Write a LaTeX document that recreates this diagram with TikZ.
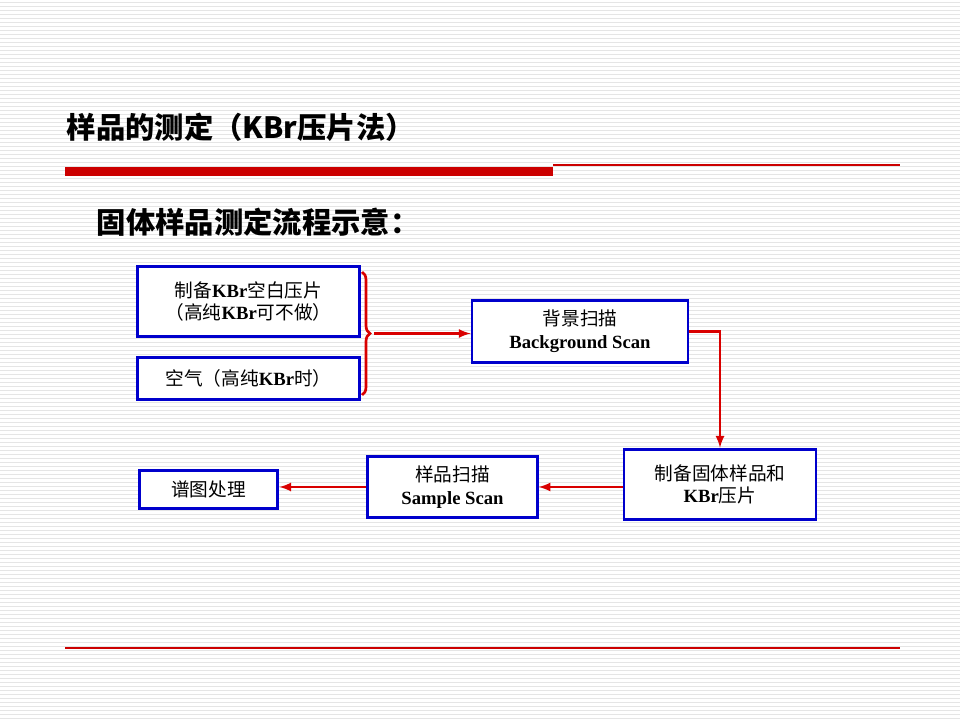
\documentclass[tikz,border=0pt]{standalone}
\usepackage{fontspec}
\setmainfont{Liberation Serif}
\newfontfamily\cjk{Noto Sans CJK SC}
\newcommand{\zh}[1]{{\cjk\mdseries #1}}
\usetikzlibrary{positioning, calc, decorations.pathreplacing}

\tikzset{
  stepbox/.style={draw=blue!80!black, line width=2.2pt, fill=white, align=center, font=\fontsize{14}{17}\selectfont\bfseries, inner sep=2pt},
  flow/.style={draw=red!85!black, line width=2pt, -latex}
}

\begin{document}
\begin{tikzpicture}[x=0.75pt, y=-0.75pt]
    % Background
    \useasboundingbox (0,0) rectangle (960,720);
    \fill[white] (0,0) rectangle (960,720);
    \foreach \yy in {2,6,...,718} \draw[black!10, line width=0.4pt] (0,\yy) -- (960,\yy);

    % Title and rules
    \node[anchor=west, font=\cjk\fontsize{22}{26}\selectfont\bfseries] (Title) at (62,127) {样品的测定（KBr压片法）};
    \fill[red!80!black] (65,167) rectangle (553,176);
    \draw[red!80!black, line width=0.8pt] (553,165) -- (900,165);
    \draw[red!80!black, line width=0.8pt] (65,648) -- (900,648);
    \node[anchor=west, font=\cjk\fontsize{22}{26}\selectfont\bfseries] (Sub) at (92,222) {固体样品测定流程示意：};

    % Boxes
    \node[stepbox, minimum width=167pt, minimum height=53pt] (Blank) at (248.5,301.5) {\zh{制备}\textbf{KBr}\zh{空白压片}\\\zh{（高纯}\textbf{KBr}\zh{可不做）}};
    \node[stepbox, minimum width=167pt, minimum height=31pt] (Air) at (248.5,378.5) {\zh{空气（高纯}\textbf{KBr}\zh{时）}};
    \node[stepbox, minimum width=162pt, minimum height=46pt] (Bg) at (580,331.5) {\zh{背景扫描}\\\textbf{Background Scan}};
    \node[stepbox, minimum width=144pt, minimum height=53pt] (Prep) at (720,484.5) {\zh{制备固体样品和}\\\textbf{KBr}\zh{压片}};
    \node[stepbox, minimum width=127pt, minimum height=46pt] (Sample) at (452.5,487) {\zh{样品扫描}\\\textbf{Sample Scan}};
    \node[stepbox, minimum width=104pt, minimum height=28pt] (Spec) at (208.5,489.5) {\zh{谱图处理}};

    % Brace and arrows
    \coordinate (BrTop) at (362,272);
    \coordinate (BrBot) at (362,395);
    \coordinate (BrTip) at (374,333.5);
    \draw[red!85!black, line width=2pt, decorate, decoration={brace, amplitude=6pt}] (BrTop) -- (BrBot);
    \draw[flow] (BrTip) -- (Bg.west |- BrTip);
    \draw[flow] (Bg.east) -| (Prep.north);
    \draw[flow] (Prep.west |- Sample) -- (Sample.east);
    \draw[flow] (Sample.west) -- (Spec.east |- Sample.west);
\end{tikzpicture}
\end{document}
